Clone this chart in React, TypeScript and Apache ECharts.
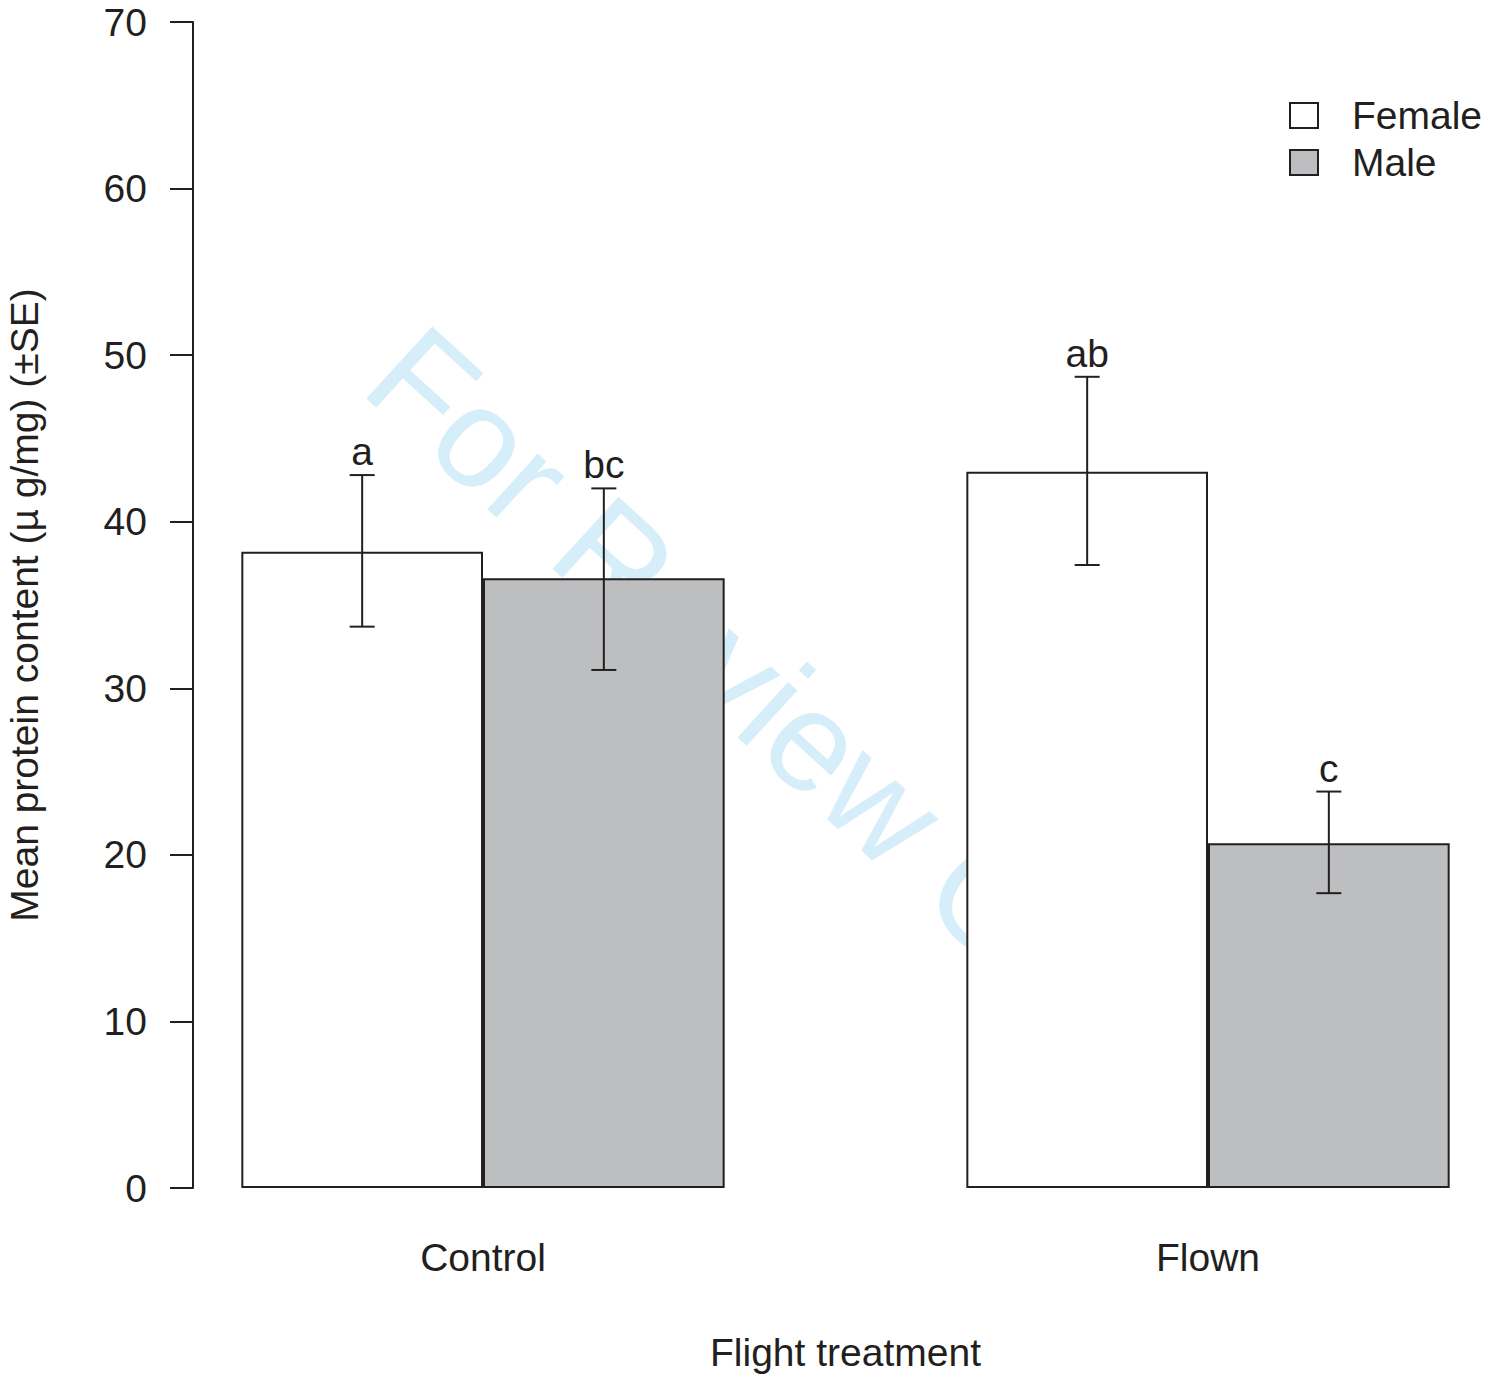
import React, { useEffect, useRef } from "react";
import * as echarts from "echarts";

const categories = ["Control", "Flown"];
const seriesNames = ["Female", "Male"];
const femaleMeans = [38.2, 43.0];
const maleMeans = [36.6, 20.7];
const femaleLow = [33.7, 37.4];
const femaleHigh = [42.8, 48.7];
const maleLow = [31.1, 17.7];
const maleHigh = [42.0, 23.8];
const femaleLetters = ["a", "ab"];
const maleLetters = ["bc", "c"];
const yTicks = [0, 10, 20, 30, 40, 50, 60, 70];

const FONT = "'Liberation Sans', Arial, Helvetica, sans-serif";
const INK = "#231f20";
const FS = 39;

function errorSeries(name: string, low: number[], high: number[], letters: string[], sign: number) {
  return {
    type: "custom",
    name: name + " SE",
    z: 5,
    data: categories.map((c, i) => [i, low[i], high[i], letters[i]]),
    renderItem: (params: any, api: any) => {
      const band = api.size([1, 0])[0];
      const cx = api.coord([api.value(0), 0])[0] + (sign * band) / 6;
      const yl = api.coord([api.value(0), api.value(1)])[1];
      const yh = api.coord([api.value(0), api.value(2)])[1];
      const cap = 12.5;
      const st = { stroke: INK, lineWidth: 2 };
      return {
        type: "group",
        children: [
          { type: "line", shape: { x1: cx, y1: yl, x2: cx, y2: yh }, style: st },
          { type: "line", shape: { x1: cx - cap, y1: yl, x2: cx + cap, y2: yl }, style: st },
          { type: "line", shape: { x1: cx - cap, y1: yh, x2: cx + cap, y2: yh }, style: st },
          {
            type: "text",
            x: cx,
            y: yh - 4,
            style: {
              text: letters[params.dataIndex],
              fill: INK,
              font: `${FS}px ${FONT}`,
              textAlign: "center",
              textVerticalAlign: "bottom",
            },
          },
        ],
      };
    },
  };
}

export default function App() {
  const ref = useRef<HTMLDivElement>(null);
  useEffect(() => {
    document.body.style.margin = "0";
    const chart = echarts.init(ref.current!, null, { renderer: "svg" });
    const option: any = {
      animation: false,
      backgroundColor: "#ffffff",
      textStyle: { fontFamily: FONT, color: INK },
      graphic: {
        elements: [
          {
            type: "text",
            z: 0,
            x: 343,
            y: 407,
            rotation: -0.74,
            silent: true,
            style: {
              text: "For Review Only",
              fill: "#d6eef9",
              font: `142px ${FONT}`,
              textAlign: "left",
              textVerticalAlign: "bottom",
            },
          },
        ],
      },
      legend: {
        orient: "vertical",
        left: 1289,
        top: 96,
        padding: 0,
        itemWidth: 28,
        itemHeight: 25,
        itemGap: 8,
        icon: "rect",
        data: seriesNames,
        textStyle: { fontSize: FS, color: INK, fontFamily: FONT, lineHeight: 39, padding: [0, 0, 0, 29] },
        itemStyle: { borderColor: INK, borderWidth: 2 },
      },
      grid: {
        left: 120.5,
        width: 1450,
        top: 22,
        bottom: 186,
        containLabel: false,
        outerBoundsMode: "none",
      },
      xAxis: {
        type: "category",
        data: categories,
        axisLine: { show: false },
        axisTick: { show: false },
        axisLabel: { fontSize: FS, color: INK, margin: 50, fontFamily: FONT },
        name: "Flight treatment",
        nameLocation: "middle",
        nameGap: 145,
        nameTextStyle: { fontSize: FS, color: INK, fontFamily: FONT },
      },
      yAxis: {
        type: "value",
        min: 0,
        max: 70,
        interval: 10,
        offset: -72.5,
        splitLine: { show: false },
        axisLine: { show: true, lineStyle: { color: INK, width: 2 } },
        axisTick: { show: true, length: 23, lineStyle: { color: INK, width: 2 } },
        axisLabel: {
          fontSize: FS,
          color: INK,
          margin: 46,
          fontFamily: FONT,
          formatter: (v: number) => (yTicks.includes(v) ? String(v) : ""),
        },
        name: "Mean protein content (\u00b5 g/mg) (\u00b1SE)",
        nameLocation: "middle",
        nameRotate: 90,
        nameGap: 149,
        nameTextStyle: { fontSize: FS, color: INK, fontFamily: FONT },
      },
      series: [
        {
          type: "bar",
          name: "Female",
          data: femaleMeans,
          barWidth: "33.333%",
          barGap: "0%",
          z: 2,
          itemStyle: { color: "#ffffff", borderColor: INK, borderWidth: 2 },
        },
        {
          type: "bar",
          name: "Male",
          data: maleMeans,
          barWidth: "33.333%",
          barGap: "0%",
          z: 2,
          itemStyle: { color: "#bdbec0", borderColor: INK, borderWidth: 2 },
        },
        errorSeries("Female", femaleLow, femaleHigh, femaleLetters, -1),
        errorSeries("Male", maleLow, maleHigh, maleLetters, 1),
      ],
    };
    chart.setOption(option);
    return () => chart.dispose();
  }, []);
  return (
    <div style={{ width: 1486, height: 1374, overflow: "hidden", position: "relative" }}>
      <div ref={ref} style={{ width: 1600, height: 1374 }} />
    </div>
  );
}
